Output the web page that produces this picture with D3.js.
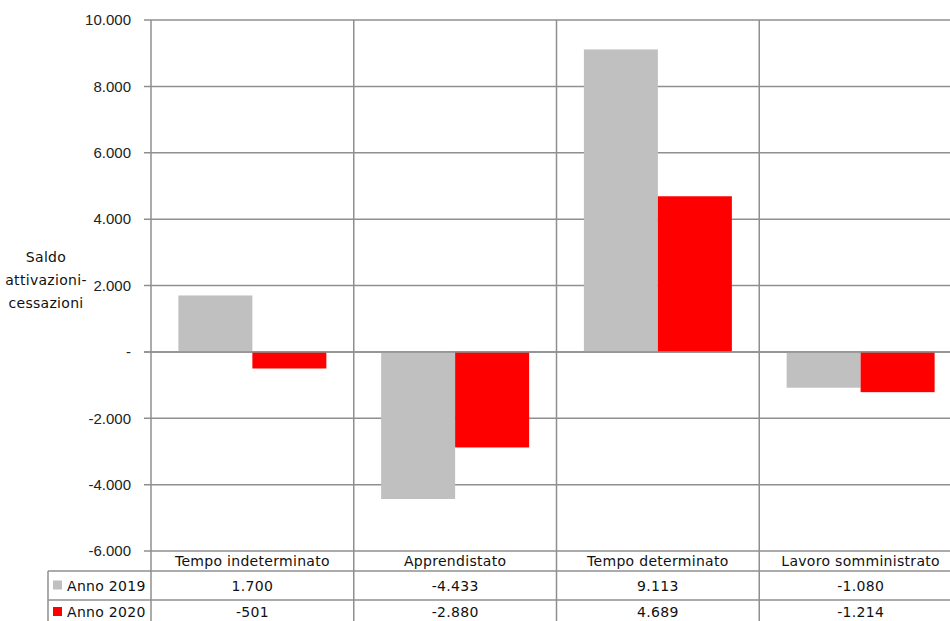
<!DOCTYPE html>
<html>
<head>
<meta charset="utf-8">
<script src="https://cdn.jsdelivr.net/npm/d3@7/dist/d3.min.js"></script>
<style>
  html, body { margin: 0; padding: 0; background: #fff; }
  svg { display: block; }
  .tick-label { font-family: "Liberation Sans", Arial, sans-serif; font-size: 15px; fill: #222; }
  .tbl { font-family: "DejaVu Sans", Verdana, sans-serif; font-size: 14px; letter-spacing: 0.3px; fill: #111; }
</style>
</head>
<body>
<svg id="chart" width="950" height="621"></svg>
<script>
// Contract categories and yearly balance (activations minus terminations)
const categories = ["Tempo indeterminato", "Apprendistato", "Tempo determinato", "Lavoro somministrato"];
const seriesNames = ["Anno 2019", "Anno 2020"];
const values2019 = [1700, -4433, 9113, -1080];
const values2020 = [-501, -2880, 4689, -1214];
const yTicks = [-6000, -4000, -2000, 0, 2000, 4000, 6000, 8000, 10000];
const seriesColors = ["#c0c0c0", "#ff0000"];

const seriesValues = [values2019, values2020];

const it = d3.formatLocale({ decimal: ",", thousands: ".", grouping: [3], currency: ["€", ""], minus: "-" });
const fmt = v => v === 0 ? "-" : it.format(",")(v);

const svg = d3.select("#chart");
const plotLeft = 151, plotRight = 962, plotTop = 20, plotBottom = 551;
const rowTop = 571, rowMid = 600, rowBottom = 629, tableLeft = 48;
const lineColor = "#8f8f8f";

const x0 = d3.scaleBand().domain(categories).range([plotLeft, plotRight]);
const x1 = d3.scaleBand().domain(seriesNames).range([0, x0.bandwidth()]).paddingInner(0).paddingOuter(0.37);
const y = d3.scaleLinear().domain([-6000, 10000]).range([plotBottom, plotTop]);

// Horizontal gridlines with small outward ticks
svg.append("g").selectAll("line").data(yTicks).join("line")
  .attr("x1", plotLeft - 7).attr("x2", plotRight)
  .attr("y1", d => y(d)).attr("y2", d => y(d))
  .attr("stroke", lineColor).attr("stroke-width", 1.5);

// Y tick labels
svg.append("g").selectAll("text").data(yTicks).join("text")
  .attr("class", "tick-label")
  .attr("x", 131).attr("y", d => y(d))
  .attr("dy", "0.35em")
  .attr("text-anchor", "end")
  .text(d => fmt(d));

// Bars
const groups = svg.append("g").selectAll("g").data(categories).join("g")
  .attr("transform", d => `translate(${x0(d)},0)`);
groups.selectAll("rect")
  .data((c, i) => seriesNames.map((s, j) => ({ s, j, v: seriesValues[j][i] })))
  .join("rect")
  .attr("x", d => x1(d.s))
  .attr("width", x1.bandwidth())
  .attr("y", d => y(Math.max(0, d.v)))
  .attr("height", d => Math.abs(y(d.v) - y(0)))
  .attr("fill", d => seriesColors[d.j]);

// Zero line drawn over the bars
svg.append("line")
  .attr("x1", plotLeft - 7).attr("x2", plotRight)
  .attr("y1", y(0)).attr("y2", y(0))
  .attr("stroke", lineColor).attr("stroke-width", 1.5);

// Vertical category separators running through the data table
const seps = categories.map(c => x0(c)).concat([plotRight]);
svg.append("g").selectAll("line").data(seps).join("line")
  .attr("x1", d => d).attr("x2", d => d)
  .attr("y1", plotTop).attr("y2", rowBottom)
  .attr("stroke", lineColor).attr("stroke-width", 1.5);

// Data table rows
[rowTop, rowMid].forEach(yy => {
  svg.append("line").attr("x1", tableLeft).attr("x2", plotRight)
    .attr("y1", yy).attr("y2", yy)
    .attr("stroke", lineColor).attr("stroke-width", 1.5);
});
svg.append("line").attr("x1", tableLeft).attr("x2", tableLeft)
  .attr("y1", rowTop).attr("y2", rowBottom)
  .attr("stroke", lineColor).attr("stroke-width", 1.5);

// Category headers
svg.append("g").selectAll("text").data(categories).join("text")
  .attr("class", "tbl")
  .attr("x", d => x0(d) + x0.bandwidth() / 2)
  .attr("y", (plotBottom + rowTop) / 2)
  .attr("dy", "0.38em")
  .attr("text-anchor", "middle")
  .text(d => d);

// Series rows: legend key, name, values
const rowsY = [(rowTop + rowMid) / 2, rowMid + 12];
seriesNames.forEach((s, j) => {
  const cy = rowsY[j];
  svg.append("rect").attr("x", 53).attr("y", cy - 5).attr("width", 9).attr("height", 9)
    .attr("fill", seriesColors[j]);
  svg.append("text").attr("class", "tbl")
    .attr("x", 67).attr("y", cy).attr("dy", "0.38em")
    .text(s);
  svg.append("g").selectAll("text").data(seriesValues[j]).join("text")
    .attr("class", "tbl")
    .attr("x", (d, i) => x0(categories[i]) + x0.bandwidth() / 2)
    .attr("y", cy).attr("dy", "0.38em")
    .attr("text-anchor", "middle")
    .text(d => fmt(d));
});

// Y axis title
const title = svg.append("text").attr("class", "tbl").attr("text-anchor", "middle");
["Saldo", "attivazioni-", "cessazioni"].forEach((t, i) => {
  title.append("tspan").attr("x", 46).attr("y", 262 + i * 23).text(t);
});
</script>
</body>
</html>
